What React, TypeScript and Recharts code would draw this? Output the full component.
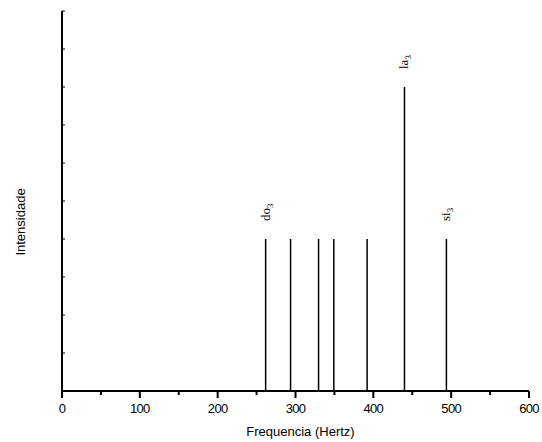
import React from "react";
import { ComposedChart, XAxis, YAxis, ReferenceLine, Scatter } from "recharts";

const noteNames = ["do", "re", "mi", "fa", "sol", "la", "si"];
const frequencies = [261.63, 293.66, 329.63, 349.23, 392.0, 440.0, 493.88];
const intensities = [4, 4, 4, 4, 4, 8, 4];
const labelledNotes = ["do", "la", "si"];
const octave = "3";
const xTicks = [0, 50, 100, 150, 200, 250, 300, 350, 400, 450, 500, 550, 600];
const yTicks = [0, 1, 2, 3, 4, 5, 6, 7, 8, 9, 10];

const peaks = noteNames.map((n, i) => ({ name: n, x: frequencies[i], y: intensities[i] }));
const labelPoints = peaks.filter((p) => labelledNotes.includes(p.name));

const SANS = "'Liberation Sans', Arial, sans-serif";
const SERIF = "'Liberation Serif', 'Times New Roman', serif";

const XTick = (props: any) => {
  const { x, y, payload } = props;
  const major = payload.value % 100 === 0;
  return (
    <g>
      <line x1={x} y1={y} x2={x} y2={y + (major ? 7 : 4)} stroke="#000" strokeWidth={2} />
      {major && (
        <text x={x} y={y + 22} textAnchor="middle" fontFamily={SANS} fontSize={13} letterSpacing={-0.7} fill="#000">
          {payload.value}
        </text>
      )}
    </g>
  );
};

const YTick = (props: any) => {
  const { x, y } = props;
  return <line x1={x} y1={y} x2={x + 3} y2={y} stroke="#000" strokeWidth={1} />;
};

const NoteLabel = (props: any) => {
  const { cx, cy, payload } = props;
  const bx = cx + 4;
  const by = cy - 18;
  return (
    <text
      x={bx}
      y={by}
      transform={`rotate(-90 ${bx} ${by})`}
      fontFamily={SERIF}
      fontSize={13}
      fill="#000"
      textAnchor="start"
    >
      {payload.name}
      <tspan fontSize={9} dy={3}>{octave}</tspan>
    </text>
  );
};

export default function App() {
  return (
    <div style={{ position: "absolute", left: 0, top: 0, background: "#fff" }}>
      <ComposedChart width={542} height={442} margin={{ top: 11, right: 13, left: 61, bottom: 50 }}>
        <XAxis
          type="number"
          dataKey="x"
          domain={[0, 600]}
          ticks={xTicks}
          interval={0}
          height={1}
          tickSize={0}
          tickMargin={0}
          tickLine={false}
          tick={<XTick />}
          axisLine={{ stroke: "#000", strokeWidth: 2 }}
          label={{
            content: (p: any) => {
              const vb = p.viewBox;
              return (
                <text x={vb.x + vb.width / 2 + 5} y={vb.y + 45} textAnchor="middle" fontFamily={SANS} fontSize={13} fill="#000">
                  Frequencia (Hertz)
                </text>
              );
            },
          }}
        />
        <YAxis
          type="number"
          dataKey="y"
          domain={[0, 10]}
          ticks={yTicks}
          interval={0}
          width={1}
          tickSize={0}
          tickMargin={0}
          tickLine={false}
          tick={<YTick />}
          axisLine={{ stroke: "#000", strokeWidth: 2 }}
          label={{
            content: (p: any) => {
              const vb = p.viewBox;
              const lx = 25;
              const ly = vb.y + vb.height / 2 + 21;
              return (
                <text x={lx} y={ly} transform={`rotate(-90 ${lx} ${ly})`} textAnchor="middle" fontFamily={SANS} fontSize={13} fill="#000">
                  Intensidade
                </text>
              );
            },
          }}
        />
        {peaks.map((p) => (
          <ReferenceLine
            key={p.name}
            segment={[
              { x: p.x, y: 0 },
              { x: p.x, y: p.y },
            ]}
            stroke="#000"
            strokeWidth={1.5}
          />
        ))}
        <Scatter data={labelPoints} dataKey="y" isAnimationActive={false} shape={<NoteLabel />} />
      </ComposedChart>
    </div>
  );
}
